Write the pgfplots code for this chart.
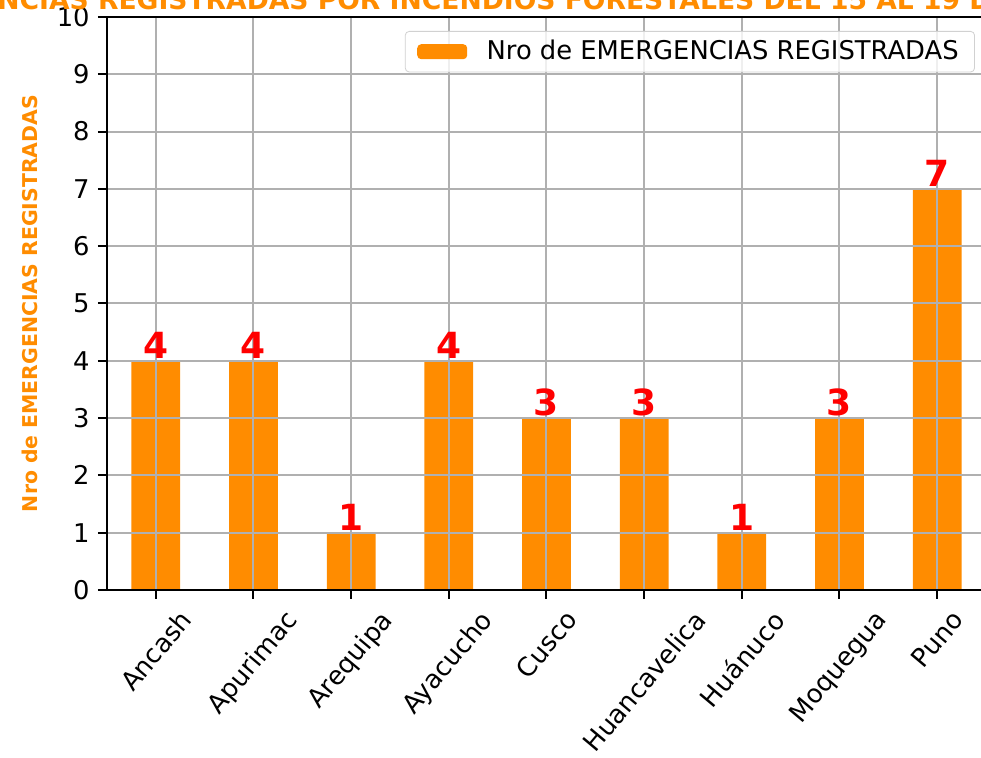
\documentclass[border=0pt]{standalone}
\usepackage{fontspec}
\setmainfont{DejaVu Sans}
\usepackage{graphicx}
\usepackage{pgfplots}
\pgfplotsset{compat=1.18}
\definecolor{barorange}{HTML}{FF8C00}
\definecolor{gridgray}{HTML}{B0B0B0}
\begin{document}
\begin{tikzpicture}[x=1pt,y=1pt]
\begin{axis}[
  at={(0,0)}, anchor=south west,
  scale only axis,
  width=439.5pt, height=286.5pt,
  xmin=-0.5, xmax=8.5, ymin=0, ymax=10,
  ybar, bar width=24.4pt,
  axis on top,
  grid=major,
  grid style={gridgray, line width=1pt},
  axis line style={black, line width=1pt},
  tick style={black, line width=1pt},
  tick align=outside,
  major tick length=4.5pt,
  xtick pos=bottom, ytick pos=left,
  xtick={0,1,2,3,4,5,6,7,8},
  xticklabels={\rotatebox{50}{Ancash},\rotatebox{50}{Apurimac},\rotatebox{50}{Arequipa},\rotatebox{50}{Ayacucho},\rotatebox{50}{Cusco},\rotatebox{50}{Huancavelica},\rotatebox{50}{Huánuco},\rotatebox{50}{Moquegua},\rotatebox{50}{Puno}},
  ytick={0,1,2,3,4,5,6,7,8,9,10},
  /pgf/number format/assume math mode=true,
  tick label style={font=\fontsize{12.9}{15}\selectfont},
  xticklabel style={anchor=north, inner sep=0pt, yshift=-4.5pt},
  yticklabel style={anchor=east, inner sep=0pt, xshift=-4pt},
  ylabel={Nro de EMERGENCIAS REGISTRADAS},
  ylabel style={at={(axis description cs:-0.0876,0.5)}, anchor=center, rotate=0, font=\fontsize{10.2}{12}\selectfont\bfseries, text=barorange},
  nodes near coords,
  every node near coord/.append style={anchor=south, inner sep=0pt, yshift=1pt, text=red, font=\fontsize{18}{20}\selectfont\bfseries},
  legend style={at={(1,1)}, anchor=north east, xshift=-5.5pt, yshift=-7pt,
    draw=black!18, rounded corners=2pt, fill=white, fill opacity=0.8, text opacity=1,
    inner xsep=6pt, inner ysep=2.5pt,
    font=\fontsize{12.9}{15}\selectfont,
    /tikz/every odd column/.append style={column sep=7.7pt}},
  legend cell align=left,
]
\addplot[fill=barorange, draw=none,
  legend image code/.code={\path[fill=barorange, fill opacity=1] (0pt,-3.75pt) rectangle (25pt,3.75pt);}]
  coordinates {(0,4) (1,4) (2,1) (3,4) (4,3) (5,3) (6,1) (7,3) (8,7)};
\addlegendentry{Nro de EMERGENCIAS REGISTRADAS}
\end{axis}
\node[anchor=base, inner sep=0pt, text=barorange, font=\fontsize{13.3}{16}\selectfont\bfseries] at (212pt,290pt) {EMERGENCIAS REGISTRADAS POR INCENDIOS FORESTALES DEL 15 AL 19 DE SETIEMBRE};
\pgfresetboundingbox
\useasboundingbox (-53.5pt,-84pt) rectangle (437pt,295pt);
\end{tikzpicture}
\end{document}
